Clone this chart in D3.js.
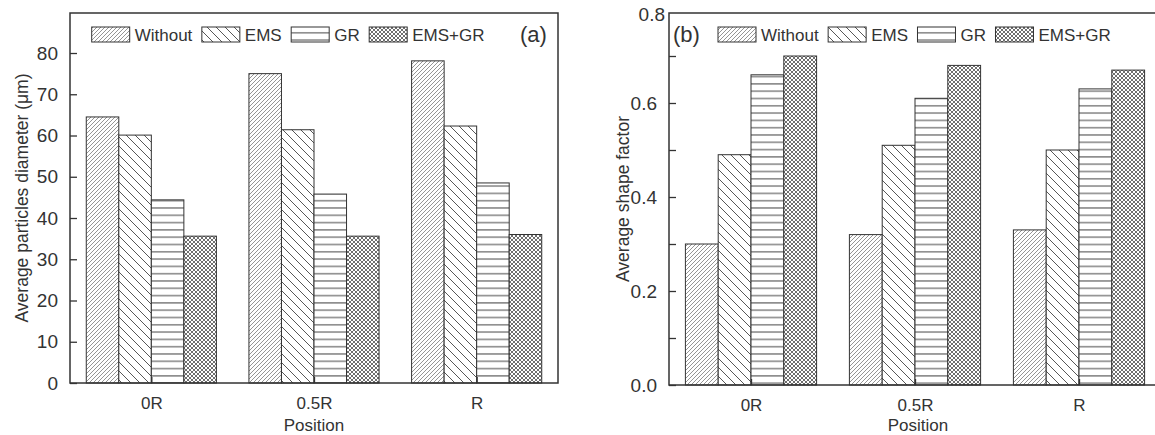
<!DOCTYPE html>
<html>
<head>
<meta charset="utf-8">
<script src="https://cdn.jsdelivr.net/npm/d3@7"></script>
<style>
  body { margin: 0; background: #fff; }
  svg { display: block; font-family: "Liberation Sans", Arial, sans-serif; }
</style>
</head>
<body>
<svg id="chart" width="1155" height="435"></svg>
<script>
// data
var positions = ["0R", "0.5R", "R"];
var seriesNames = ["Without", "EMS", "GR", "EMS+GR"];

// (a) average particle diameter (um)
var diamWithout = [64.5, 75.0, 78.1];
var diamEMS     = [60.1, 61.4, 62.3];
var diamGR      = [44.4, 45.8, 48.5];
var diamEMSGR   = [35.6, 35.6, 36.0];

// (b) average shape factor
var shapeWithout = [0.30, 0.32, 0.33];
var shapeEMS     = [0.49, 0.51, 0.50];
var shapeGR      = [0.66, 0.61, 0.63];
var shapeEMSGR   = [0.70, 0.68, 0.67];

var diamTicks = [0, 10, 20, 30, 40, 50, 60, 70, 80];
var shapeTicks = [0, 0.2, 0.4, 0.6, 0.8];
var shapeMinor = [0.1, 0.3, 0.5, 0.7];

var svg = d3.select("#chart");
var ink = "#333";

// hatch patterns
var defs = svg.append("defs");
function pat(id, w, h) {
  return defs.append("pattern").attr("id", id)
    .attr("patternUnits", "userSpaceOnUse")
    .attr("width", w).attr("height", h);
}
var p1 = pat("p-without", 4, 4);
p1.append("rect").attr("width", 4).attr("height", 4).attr("fill", "#fff");
p1.append("path").attr("d", "M-1,1 l2,-2 M0,4 l4,-4 M3,5 l2,-2")
  .attr("stroke", "#7a7a7a").attr("stroke-width", 0.8);
var p2 = pat("p-ems", 9, 9);
p2.append("rect").attr("width", 9).attr("height", 9).attr("fill", "#fff");
p2.append("path").attr("d", "M0,0 L9,9 M-1,8 L1,10 M8,-1 L10,1")
  .attr("stroke", "#444").attr("stroke-width", 0.9);
var p3 = pat("p-gr", 8, 7.3);
p3.append("rect").attr("width", 8).attr("height", 7.3).attr("fill", "#fff");
p3.append("path").attr("d", "M0,3.6 H8")
  .attr("stroke", "#444").attr("stroke-width", 1);
var p4 = pat("p-emsgr", 4, 4);
p4.append("rect").attr("width", 4).attr("height", 4).attr("fill", "#fff");
p4.append("path").attr("d", "M0,0 L4,4 M0,4 L4,0 M-1,1 l2,-2 M3,5 l2,-2 M-1,3 l2,2 M3,-1 l2,2")
  .attr("stroke", "#555").attr("stroke-width", 0.85);
var fills = ["url(#p-without)", "url(#p-ems)", "url(#p-gr)", "url(#p-emsgr)"];

function drawPanel(opt) {
  var g = svg.append("g");
  var x = d3.scaleLinear().domain([0.5, 3.5]).range([opt.left, opt.right]);
  var y = d3.scaleLinear().domain([0, opt.ymax]).range([opt.bottom, opt.top]);
  var bw = x(0.2) - x(0);

  // bars
  opt.series.forEach(function (vals, j) {
    g.selectAll(null).data(vals).enter().append("rect")
      .attr("x", function (d, i) { return x(i + 1 - 0.4 + j * 0.2); })
      .attr("y", function (d) { return y(d); })
      .attr("width", bw)
      .attr("height", function (d) { return y(0) - y(d); })
      .attr("fill", fills[j])
      .attr("stroke", ink).attr("stroke-width", 1);
  });

  // frame
  g.append("rect")
    .attr("x", opt.left).attr("y", opt.top)
    .attr("width", opt.right - opt.left).attr("height", opt.bottom - opt.top)
    .attr("fill", "none").attr("stroke", ink).attr("stroke-width", 1.5);

  // y axis (ticks inward)
  var ya = g.append("g").attr("transform", "translate(" + opt.left + ",0)")
    .call(d3.axisLeft(y).tickValues(opt.ticks).tickSize(-7).tickPadding(12)
      .tickFormat(opt.fmt));
  ya.select(".domain").remove();
  ya.selectAll("line").attr("stroke", ink).attr("stroke-width", 1.3);
  ya.selectAll("text").attr("fill", ink).style("font-size", "19px").attr("font-family", null);
  if (opt.minor) {
    g.append("g").attr("transform", "translate(" + opt.left + ",0)")
      .call(d3.axisLeft(y).tickValues(opt.minor).tickSize(-7).tickFormat(""))
      .call(function (s) {
        s.select(".domain").remove();
        s.selectAll("line").attr("stroke", ink).attr("stroke-width", 1.3);
      });
  }
  if (opt.topLabel) {
    g.append("text").attr("x", opt.left - 4).attr("y", opt.top + 2)
      .attr("dy", "0.32em").attr("text-anchor", "end")
      .attr("fill", ink).style("font-size", "19px").text(opt.topLabel);
  }

  // x axis (category centres, inward ticks)
  var xa = g.append("g").attr("transform", "translate(0," + opt.bottom + ")")
    .call(d3.axisBottom(x).tickValues([1, 2, 3]).tickSize(-6).tickPadding(14)
      .tickFormat(function (d) { return positions[d - 1]; }));
  xa.select(".domain").remove();
  xa.selectAll("line").attr("stroke", ink).attr("stroke-width", 1.3);
  xa.selectAll("text").attr("fill", ink).style("font-size", "17px").attr("font-family", null);

  g.append("text").attr("x", (opt.left + Math.min(opt.right, 1155)) / 2 + opt.xTitleShift)
    .attr("y", 431).attr("text-anchor", "middle")
    .attr("fill", ink).style("font-size", "17px").text("Position");

  g.append("text")
    .attr("transform", "translate(" + opt.yTitleX + "," + ((opt.top + opt.bottom) / 2) + ") rotate(-90)")
    .attr("text-anchor", "middle").attr("dy", "0.35em")
    .attr("fill", ink).style("font-size", "17.5px").text(opt.yTitle);

  // legend
  var lx = opt.legendX;
  seriesNames.forEach(function (name, j) {
    g.append("rect").attr("x", lx).attr("y", 27).attr("width", 38).attr("height", 15)
      .attr("fill", fills[j]).attr("stroke", ink).attr("stroke-width", 1);
    var t = g.append("text").attr("x", lx + 43).attr("y", 41)
      .attr("fill", ink).style("font-size", "17px").text(name);
    lx += 43 + t.node().getComputedTextLength() + 9.5;
  });

  g.append("text").attr("x", opt.tagX).attr("y", 42)
    .attr("fill", ink).style("font-size", "22px").text(opt.tag);
}

drawPanel({
  left: 70, right: 558, top: 13, bottom: 383, ymax: 89.7,
  series: [diamWithout, diamEMS, diamGR, diamEMSGR],
  ticks: diamTicks, fmt: d3.format("d"),
  yTitle: "Average particles diameter (\u03bcm)", yTitleX: 22,
  legendX: 91.7, tag: "(a)", tagX: 520, xTitleShift: 0
});

var ySh = d3.scaleLinear().domain([0, 1]).range([385, -85]); // 470 px per unit
drawPanel({
  left: 669, right: 1161, top: 13, bottom: 385, ymax: ySh.invert(13),
  series: [shapeWithout, shapeEMS, shapeGR, shapeEMSGR],
  ticks: shapeTicks.slice(0, 4), minor: shapeMinor, fmt: d3.format(".1f"),
  topLabel: d3.format(".1f")(shapeTicks[4]),
  yTitle: "Average shape factor", yTitleX: 623,
  legendX: 718, tag: "(b)", tagX: 673, xTitleShift: 6
});
</script>
</body>
</html>
